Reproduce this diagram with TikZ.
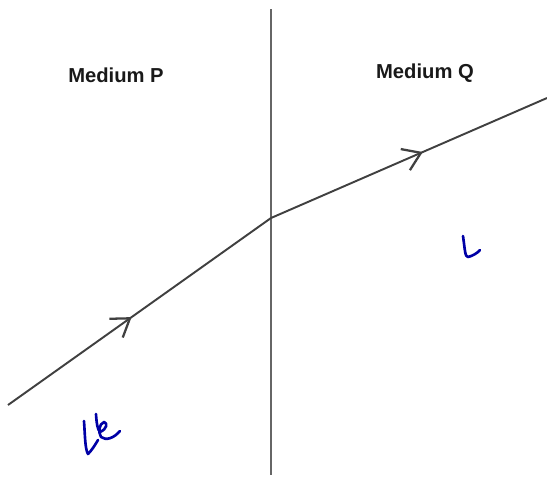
\documentclass[tikz,border=0pt]{standalone}
\usepackage{fontspec}
\setmainfont{Liberation Sans}
\usetikzlibrary{arrows.meta,decorations.markings}

\begin{document}
\begin{tikzpicture}[
  % Line Styles
  ray/.style={line width=1.1pt, draw=black!75},
  boundary/.style={line width=0.8pt, draw=black!60},
  arrowmid/.style={postaction={decorate}, decoration={markings, mark=at position #1 with {\arrow{Straight Barb[length=3.4mm, width=4.6mm, line width=1.3pt]}}}},
  pen/.style={line width=1.5pt, draw=blue!65!black, line cap=round, line join=round},
  % Label Styles
  medium/.style={font=\fontsize{11.5}{14}\selectfont\bfseries, text=black!90},
]
\useasboundingbox (0,0) rectangle (10.94,-9.6);

% Interface between the two media
\coordinate (top) at (5.42,-0.18);
\coordinate (bottom) at (5.42,-9.5);
\draw[boundary] (top) -- (bottom);

\node[medium] (labelP) at (2.32,-1.5) {Medium P};
\node[medium] (labelQ) at (8.5,-1.46) {Medium Q};

% Ray
\coordinate (source) at (0.16,-8.1);
\coordinate (O) at (5.42,-4.36);
\coordinate (exit) at (10.94,-1.96);

\draw[ray, arrowmid=0.47] (source) -- (O);
\draw[ray, arrowmid=0.55] (O) -- (exit);

% Handwritten marks
\draw[pen] (9.26,-4.72) .. controls (9.3,-5.0) and (9.3,-5.14) .. (9.36,-5.14)
  .. controls (9.45,-5.12) and (9.55,-5.06) .. (9.6,-5.0);
\draw[pen] (1.68,-8.42) .. controls (1.7,-8.7) and (1.7,-8.98) .. (1.76,-9.08)
  .. controls (1.84,-9.0) and (1.9,-8.9) .. (1.96,-8.8);
\draw[pen] (1.92,-8.28) .. controls (1.93,-8.45) and (1.95,-8.6) .. (2.0,-8.64)
  .. controls (2.14,-8.58) and (2.16,-8.46) .. (2.08,-8.44)
  .. controls (1.98,-8.48) and (1.96,-8.64) .. (2.02,-8.74)
  .. controls (2.12,-8.82) and (2.28,-8.76) .. (2.4,-8.62);
\end{tikzpicture}
\end{document}
